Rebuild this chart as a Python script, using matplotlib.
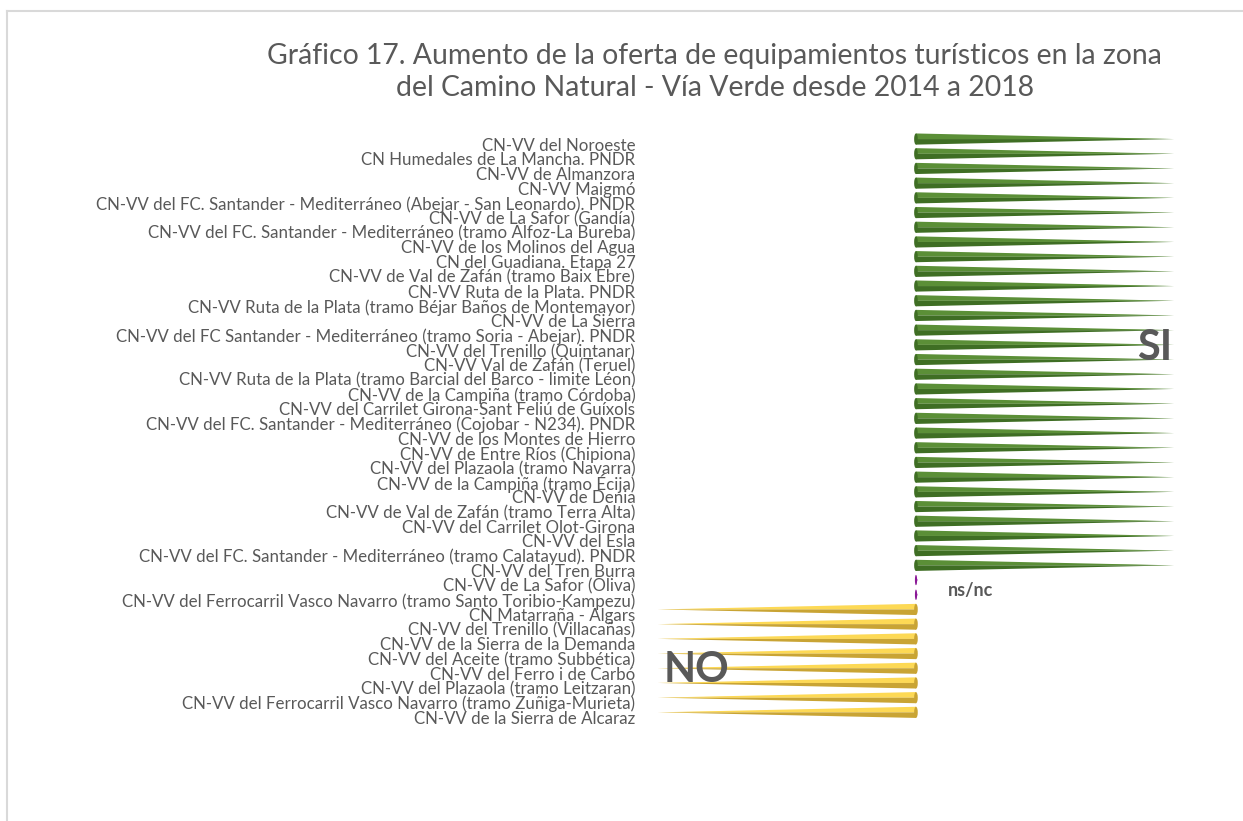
from matplotlib import pyplot as plt
from matplotlib.patches import Polygon, Ellipse
from matplotlib.lines import Line2D
import matplotlib.transforms as mtransforms

# Trails (top to bottom) and the answer given for each one.
caminos = [
    "CN-VV del Noroeste",
    "CN Humedales de La Mancha. PNDR",
    "CN-VV de Almanzora",
    "CN-VV Maigmó",
    "CN-VV del FC. Santander - Mediterráneo (Abejar - San Leonardo). PNDR",
    "CN-VV de La Safor (Gandía)",
    "CN-VV del FC. Santander - Mediterráneo (tramo Alfoz-La Bureba)",
    "CN-VV de los Molinos del Agua",
    "CN del Guadiana. Etapa 27",
    "CN-VV de Val de Zafán (tramo Baix Ebre)",
    "CN-VV Ruta de la Plata. PNDR",
    "CN-VV Ruta de la Plata (tramo Béjar Baños de Montemayor)",
    "CN-VV de La Sierra",
    "CN-VV del FC Santander - Mediterráneo (tramo Soria - Abejar). PNDR",
    "CN-VV del Trenillo (Quintanar)",
    "CN-VV Val de Zafán (Teruel)",
    "CN-VV Ruta de la Plata (tramo Barcial del Barco - limite Léon)",
    "CN-VV de la Campiña (tramo Córdoba)",
    "CN-VV del Carrilet Girona-Sant Feliú de Guíxols",
    "CN-VV del FC. Santander - Mediterráneo (Cojobar - N234). PNDR",
    "CN-VV de los Montes de Hierro",
    "CN-VV de Entre Ríos (Chipiona)",
    "CN-VV del Plazaola (tramo Navarra)",
    "CN-VV de la Campiña (tramo Écija)",
    "CN-VV de Denia",
    "CN-VV de Val de Zafán (tramo Terra Alta)",
    "CN-VV del Carrilet Olot-Girona",
    "CN-VV del Esla",
    "CN-VV del FC. Santander - Mediterráneo (tramo Calatayud). PNDR",
    "CN-VV del Tren Burra",
    "CN-VV de La Safor (Oliva)",
    "CN-VV del Ferrocarril Vasco Navarro (tramo Santo Toribio-Kampezu)",
    "CN Matarraña - Algars",
    "CN-VV del Trenillo (Villacañas)",
    "CN-VV de la Sierra de la Demanda",
    "CN-VV del Aceite (tramo Subbética)",
    "CN-VV del Ferro i de Carbó",
    "CN-VV del Plazaola (tramo Leitzaran)",
    "CN-VV del Ferrocarril Vasco Navarro (tramo Zuñiga-Murieta)",
    "CN-VV de la Sierra de Alcaraz",
]

respuestas = [
    "SI", "SI", "SI", "SI", "SI", "SI", "SI", "SI", "SI", "SI",
    "SI", "SI", "SI", "SI", "SI", "SI", "SI", "SI", "SI", "SI",
    "SI", "SI", "SI", "SI", "SI", "SI", "SI", "SI", "SI", "SI",
    "ns/nc", "ns/nc",
    "NO", "NO", "NO", "NO", "NO", "NO", "NO", "NO",
]

valor = {"SI": 1.0, "ns/nc": 0.006, "NO": -1.0}
colores = {
    "SI": ("#5b8f37", "#3f6e24"),
    "ns/nc": ("#a321b0", "#8a1896"),
    "NO": ("#fdd955", "#c9a434"),
}

FONT = "Lato"
GRAY = "#595959"


def cone(ax, y, v, light, dark, h=0.76, cap=0.014):
    # upper half lighter, lower half darker -> fake 3D cone
    ax.add_patch(Polygon([(0, y - h / 2), (v, y), (0, y)],
                         closed=True, facecolor=light, edgecolor="none"))
    ax.add_patch(Polygon([(0, y), (v, y), (0, y + h / 2)],
                         closed=True, facecolor=dark, edgecolor="none"))
    ax.add_patch(Polygon([(0, y - h * 0.32), (v, y), (0, y - h * 0.05)],
                         closed=True, facecolor=light, edgecolor="none",
                         alpha=0.7))
    ax.add_patch(Ellipse((0, y), cap, h, facecolor=dark,
                         edgecolor="none"))


def main():
    fig = plt.figure(figsize=(12.43, 8.21), dpi=100)
    fig.patch.set_facecolor("white")

    # thin chart-area border (top and left edges visible)
    fig.add_artist(Line2D([7 / 1243, 1.0], [1 - 11 / 821, 1 - 11 / 821],
                          color="#d9d9d9", lw=1.5))
    fig.add_artist(Line2D([7 / 1243, 7 / 1243], [0, 1 - 11 / 821],
                          color="#d9d9d9", lw=1.5))

    fig.text(0.575, 1 - 72 / 821,
             "Gráfico 17. Aumento de la oferta de equipamientos turísticos en la zona\n"
             "del Camino Natural - Vía Verde desde 2014 a 2018",
             ha="center", va="center", fontsize=20.4, color=GRAY,
             family=FONT, linespacing=1.3)

    ax = fig.add_axes([645 / 1243, 1 - 719.7 / 821, 545 / 1243, 588 / 821])
    n = len(caminos)
    ax.set_ylim(n - 0.5, -0.5)
    ax.set_xlim(-1.05, 1.062)

    for i, r in enumerate(respuestas):
        light, dark = colores[r]
        if r == "ns/nc":
            cone(ax, i, valor[r], light, dark, h=0.7, cap=0.008)
        else:
            cone(ax, i, valor[r], light, dark)

    ax.set_yticks(range(n))
    ax.set_yticklabels(caminos, fontsize=12.2, color=GRAY, family=FONT)
    ax.tick_params(axis="y", length=0, pad=7)
    off = mtransforms.ScaledTranslation(0, -5 / 100, fig.dpi_scale_trans)
    for lab in ax.get_yticklabels():
        lab.set_transform(lab.get_transform() + off)
    ax.set_xticks([])
    for s in ax.spines.values():
        s.set_visible(False)

    ax.text(0.926, 14.2, "SI", ha="center", va="center", fontsize=30,
            fontweight="bold", color=GRAY, family=FONT)
    ax.text(-0.849, 36.1, "NO", ha="center", va="center", fontsize=30,
            fontweight="bold", color=GRAY, family=FONT)
    ax.text(0.124, 30.7, "ns/nc", ha="left", va="center", fontsize=13,
            fontweight="bold", color=GRAY, family=FONT)

    fig.savefig("out.png", dpi=100)


if __name__ == "__main__":
    main()
